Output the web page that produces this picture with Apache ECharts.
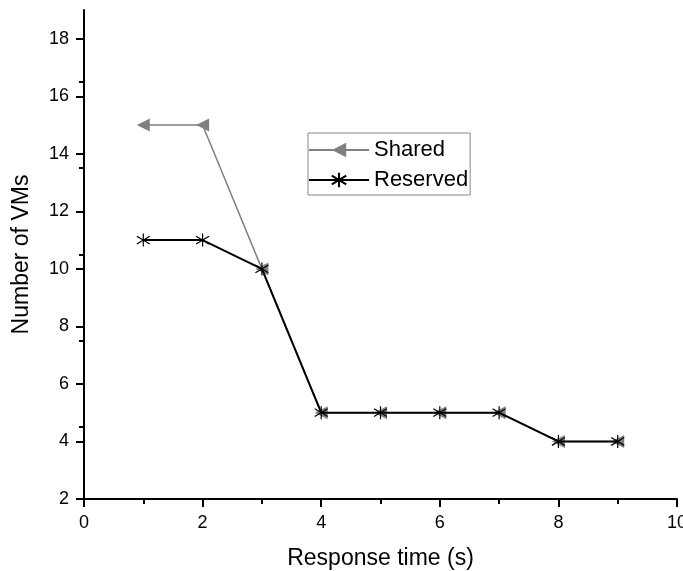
<!DOCTYPE html>
<html>
<head>
<meta charset="utf-8">
<script src="https://cdn.jsdelivr.net/npm/echarts@6/dist/echarts.min.js"></script>
<style>
html, body { margin: 0; padding: 0; background: #fff; }
#main { width: 683px; height: 571px; }
</style>
</head>
<body>
<div id="main"></div>
<script>
// 数据
var responseTime = [1, 2, 3, 4, 5, 6, 7, 8, 9];
var shared = [15, 15, 10, 5, 5, 5, 5, 4, 4];
var reserved = [11, 11, 10, 5, 5, 5, 5, 4, 4];
var yTicks = [2, 4, 6, 8, 10, 12, 14, 16, 18];

function pairs(xs, ys) {
	return xs.map(function (x, i) { return [x, ys[i]]; });
}

// 星号标记
var asterisk = 'path://M0,-1L0,1M-0.8,-0.6L0.8,0.6M-0.8,0.6L0.8,-0.6';

var font = 'Liberation Sans';
var chart = echarts.init(document.getElementById('main'));
var option = {
	animation: false,
	backgroundColor: '#fff',
	grid: { left: 84, right: 6, top: 10, bottom: 72, outerBoundsMode: 'none' },
	legend: {
		left: 308, top: 133,
		orient: 'vertical',
		itemWidth: 60, itemHeight: 18, itemGap: 8,
		padding: [6, 2, 4, 0],
		borderColor: '#888', borderWidth: 1,
		textStyle: { fontFamily: font, fontSize: 22, color: '#000', padding: [0, 0, 0, 0] },
		data: ['Shared', 'Reserved']
	},
	xAxis: {
		type: 'value', min: 0, max: 10, interval: 2,
		name: 'Response time (s)', nameLocation: 'middle', nameGap: 48,
		nameTextStyle: { fontFamily: font, fontSize: 23, color: '#000' },
		axisLine: { lineStyle: { color: '#000', width: 2 } },
		axisTick: { inside: false, length: 8, lineStyle: { color: '#000', width: 2 } },
		minorTick: { show: true, splitNumber: 2, length: 5, lineStyle: { color: '#000', width: 2 } },
		axisLabel: { fontFamily: font, fontSize: 18, color: '#000', margin: 15 },
		splitLine: { show: false }
	},
	yAxis: {
		type: 'value', min: 2, max: 19,
		name: 'Number of VMs', nameLocation: 'middle', nameGap: 51,
		nameTextStyle: { fontFamily: font, fontSize: 23, color: '#000' },
		axisLine: { lineStyle: { color: '#000', width: 2 } },
		axisTick: { length: 8, customValues: yTicks, lineStyle: { color: '#000', width: 2 } },
		minorTick: { show: true, splitNumber: 2, length: 5, lineStyle: { color: '#000', width: 2 } },
		axisLabel: { fontFamily: font, fontSize: 18, color: '#000', margin: 15, customValues: yTicks },
		splitLine: { show: false }
	},
	series: [{
		name: 'Shared',
		type: 'line',
		data: pairs(responseTime, shared),
		symbol: 'triangle',
		symbolRotate: 90,
		symbolSize: 13,
		lineStyle: { color: '#808080', width: 1.5 },
		itemStyle: { color: '#808080' },
		z: 2
	}, {
		name: 'Reserved',
		type: 'line',
		data: pairs(responseTime, reserved),
		symbol: asterisk,
		symbolSize: 13,
		lineStyle: { color: '#000', width: 2 },
		itemStyle: { color: 'transparent', borderColor: '#000', borderWidth: 1.2 },
		z: 3
	}]
};
chart.setOption(option);
</script>
</body>
</html>
